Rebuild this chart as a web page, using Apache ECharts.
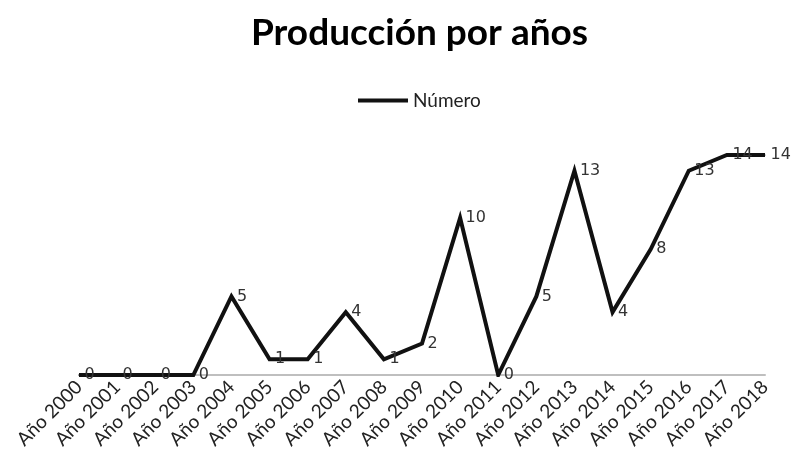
<!DOCTYPE html>
<html>
<head>
<meta charset="utf-8">
<script src="https://cdn.jsdelivr.net/npm/echarts@6/dist/echarts.min.js"></script>
<style>
  html, body { margin: 0; padding: 0; background: #fff; }
  #chart { width: 798px; height: 457px; }
</style>
</head>
<body>
<div id="chart"></div>
<script>
const years = ['Año 2000', 'Año 2001', 'Año 2002', 'Año 2003', 'Año 2004', 'Año 2005', 'Año 2006',
  'Año 2007', 'Año 2008', 'Año 2009', 'Año 2010', 'Año 2011', 'Año 2012', 'Año 2013', 'Año 2014',
  'Año 2015', 'Año 2016', 'Año 2017', 'Año 2018']
const numero = [0, 0, 0, 0, 5, 1, 1, 4, 1, 2, 10, 0, 5, 13, 4, 8, 13, 14, 14]

const chart = echarts.init(document.getElementById('chart'))

chart.setOption({
  animation: false,
  title: {
    text: 'Producción por años',
    left: 246,
    top: 10,
    textStyle: { fontFamily: 'Lato', fontSize: 37, fontWeight: 'bold', color: '#000' },
  },
  legend: {
    top: 86,
    left: 353,
    itemWidth: 50,
    itemHeight: 4,
    itemGap: 6,
    icon: 'rect',
    textStyle: { fontFamily: 'Lato', fontSize: 19, color: '#222' },
  },
  grid: { left: 79, right: 33, top: 155, bottom: 82 },
  xAxis: {
    type: 'category',
    data: years,
    boundaryGap: false,
    axisTick: { show: false },
    axisLine: { lineStyle: { color: '#bfbfbf', width: 2 } },
    axisLabel: {
      rotate: 45,
      interval: 0,
      margin: 9,
      fontFamily: 'Lato',
      fontSize: 19,
      color: '#222',
    },
  },
  yAxis: {
    type: 'value',
    min: 0,
    max: 14,
    show: false,
    splitLine: { show: false },
  },
  series: [
    {
      name: 'Número',
      type: 'line',
      data: numero,
      symbol: 'circle',
      symbolSize: 1,
      color: '#111',
      itemStyle: { color: '#111' },
      lineStyle: { width: 4, color: '#111', join: 'miter' },
      label: {
        show: true,
        position: 'right',
        distance: 5,
        fontFamily: 'DejaVu Sans',
        fontSize: 16,
        color: '#333',
      },
    },
  ],
})
</script>
</body>
</html>
